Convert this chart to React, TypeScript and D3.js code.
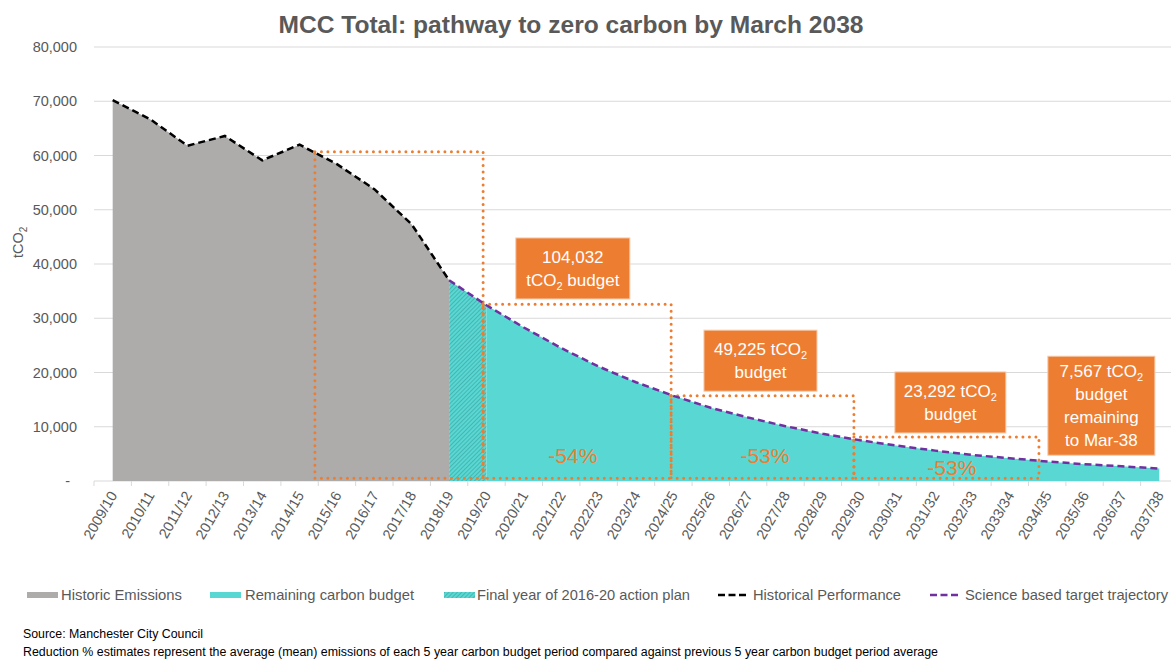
import * as d3 from 'd3';

const years = [
  '2009/10', '2010/11', '2011/12', '2012/13', '2013/14', '2014/15', '2015/16',
  '2016/17', '2017/18', '2018/19', '2019/20', '2020/21', '2021/22', '2022/23',
  '2023/24', '2024/25', '2025/26', '2026/27', '2027/28', '2028/29', '2029/30',
  '2030/31', '2031/32', '2032/33', '2033/34', '2034/35', '2035/36', '2036/37',
  '2037/38',
];

// 2009/10 .. 2018/19
const historic = [70200, 66700, 61800, 63600, 59100, 62000, 58400, 53800, 47300, 37000];
// 2018/19 .. 2037/38
const science = [
  37000, 32400, 28300, 24500, 21100, 18200, 15700, 13500, 11700, 10100,
  8700, 7500, 6500, 5600, 4800, 4200, 3600, 3100, 2700, 2300,
];
const scienceStart = 9;

const yTicks = [0, 10000, 20000, 30000, 40000, 50000, 60000, 70000, 80000];

// carbon budget periods (dotted boxes), x in category index
const periods = [
  { x0: 5.41, x1: 9.91, top: 60700 },
  { x0: 9.91, x1: 14.94, top: 32600 },
  { x0: 14.94, x1: 19.83, top: 15700 },
  { x0: 19.83, x1: 24.78, top: 8100 },
];

const budgets = [
  { x: 12.31, top: 44800, w: 114, h: 61, lines: [['104,032'], ['tCO', '2', ' budget']] },
  { x: 17.33, top: 27800, w: 113, h: 61, lines: [['49,225 tCO', '2'], ['budget']] },
  { x: 22.41, top: 20100, w: 111, h: 61, lines: [['23,292 tCO', '2'], ['budget']] },
  { x: 26.45, top: 23000, w: 107, h: 99, lines: [['7,567 tCO', '2'], ['budget'], ['remaining'], ['to Mar-38']] },
];

const reductions = [
  { x: 12.31, y: 3300, label: '-54%' },
  { x: 17.45, y: 3300, label: '-53%' },
  { x: 22.45, y: 1100, label: '-53%' },
];

const W = 1171;
const H = 659;
const FONT = '"Liberation Sans", Arial, sans-serif';
const GREY_TXT = '#595959';
const ORANGE = '#ED7D31';
const CYAN = '#59D8D3';
const GREY = '#AEABAB';
const PURPLE = '#7030A0';

export default function App() {
  const x = d3.scaleLinear().domain([-0.5, years.length - 0.5]).range([94, 1178]);
  const y = d3.scaleLinear().domain([0, 80000]).range([481, 47]);

  const histPts = historic.map((v, i) => [i, v] as [number, number]);
  const sciPts = science.map((v, i) => [i + scienceStart, v] as [number, number]);

  const area = d3.area<[number, number]>().x((d) => x(d[0])).y0(y(0)).y1((d) => y(d[1]));
  const line = d3.line<[number, number]>().x((d) => x(d[0])).y((d) => y(d[1]));

  const dotted = { stroke: ORANGE, strokeWidth: 3, strokeDasharray: '0 6.5', strokeLinecap: 'round' as const, fill: 'none' };

  const legend = [
    { kind: 'rect', fill: GREY, label: 'Historic Emissions', x: 27, tx: 61, tw: 121 },
    { kind: 'rect', fill: CYAN, label: 'Remaining carbon budget', x: 210, tx: 245, tw: 169 },
    { kind: 'rect', fill: 'url(#hatch)', label: 'Final year of 2016-20 action plan', x: 444, tx: 477, tw: 213 },
    { kind: 'line', fill: '#000', label: 'Historical Performance', x: 718, tx: 753, tw: 148 },
    { kind: 'line', fill: PURPLE, label: 'Science based target trajectory', x: 930, tx: 965, tw: 203 },
  ];

  return (
    <svg width={W} height={H} style={{ position: 'absolute', left: 0, top: 0, background: '#fff' }} fontFamily={FONT}>
      <defs>
        <pattern id="hatch" patternUnits="userSpaceOnUse" width="3" height="3" patternTransform="rotate(45)">
          <rect width="3" height="3" fill={CYAN} />
          <line x1="0" y1="0" x2="0" y2="3" stroke="#3a9d9a" strokeWidth="1.2" />
        </pattern>
      </defs>

      <text x={571} y={33} textAnchor="middle" fontSize={24} fontWeight="bold" fill={GREY_TXT} textLength={585} lengthAdjust="spacingAndGlyphs">
        MCC Total: pathway to zero carbon by March 2038
      </text>

      {yTicks.map((t) => (
        <g key={t}>
          <line x1={94} x2={W} y1={y(t)} y2={y(t)} stroke="#d9d9d9" strokeWidth={1} />
          <text x={t === 0 ? 70 : 77} y={y(t) + 5} textAnchor="end" fontSize={14.5} fill={GREY_TXT}>
            {t === 0 ? '-' : d3.format(',')(t)}
          </text>
        </g>
      ))}
      <text transform={`translate(23, ${y(44000)}) rotate(-90)`} textAnchor="middle" fontSize={14.5} fill={GREY_TXT}>
        tCO<tspan fontSize={10} dy={4}>2</tspan>
      </text>

      <path d={area(histPts) ?? ''} fill={GREY} />
      <path d={area(sciPts.slice(0, 2)) ?? ''} fill="url(#hatch)" />
      <path d={area(sciPts.slice(1)) ?? ''} fill={CYAN} />

      {years.map((yr, i) => (
        <g key={yr}>
          <line x1={x(i - 0.5)} x2={x(i - 0.5)} y1={y(0)} y2={y(0) + 5} stroke="#d9d9d9" />
          <text transform={`translate(${x(i) + 5}, ${y(0) + 14}) rotate(-60)`} textAnchor="end" fontSize={14.5} fill={GREY_TXT}>
            {yr}
          </text>
        </g>
      ))}

      {periods.map((p, i) => (
        <rect key={i} x={x(p.x0)} y={y(p.top)} width={x(p.x1) - x(p.x0)} height={y(500) - y(p.top)} {...dotted} />
      ))}

      <path d={line(histPts) ?? ''} fill="none" stroke="#000" strokeWidth={2.5} strokeDasharray="7 4" />
      <path d={line(sciPts) ?? ''} fill="none" stroke={PURPLE} strokeWidth={2.5} strokeDasharray="7 4" />

      {budgets.map((b, i) => (
        <g key={i} transform={`translate(${x(b.x)}, ${y(b.top)})`}>
          <rect x={-b.w / 2} y={0} width={b.w} height={b.h} fill={ORANGE} stroke="#f6c9a8" strokeWidth={1} />
          {b.lines.map((ln, j) => (
            <text key={j} x={0} y={b.h / 2 + 6 + (j - (b.lines.length - 1) / 2) * 23} textAnchor="middle" fontSize={17} fill="#fff">
              {ln[0]}
              {ln[1] && <tspan fontSize={11} dy={4}>{ln[1]}</tspan>}
              {ln[2] && <tspan dy={-4}>{ln[2]}</tspan>}
            </text>
          ))}
        </g>
      ))}

      {reductions.map((r, i) => (
        <text key={i} x={x(r.x)} y={y(r.y)} textAnchor="middle" fontSize={21} fill={ORANGE}>
          {r.label}
        </text>
      ))}

      {legend.map((l) => (
        <g key={l.label} transform="translate(0, 595)">
          {l.kind === 'rect' ? (
            <rect x={l.x} y={-3} width={31} height={6} fill={l.fill} />
          ) : (
            <line x1={l.x} x2={l.x + 31} y1={0} y2={0} stroke={l.fill} strokeWidth={2.5} strokeDasharray="7 3.5" />
          )}
          <text x={l.tx} y={5} fontSize={15} fill={GREY_TXT} textLength={l.tw} lengthAdjust="spacingAndGlyphs">
            {l.label}
          </text>
        </g>
      ))}

      <text x={23} y={638} fontSize={12.5} fill="#000" fontFamily='"Liberation Sans Narrow", "Liberation Sans", sans-serif' textLength={180} lengthAdjust="spacingAndGlyphs">
        Source: Manchester City Council
      </text>
      <text x={23} y={656} fontSize={12.5} fill="#000" fontFamily='"Liberation Sans Narrow", "Liberation Sans", sans-serif' textLength={915} lengthAdjust="spacingAndGlyphs">
        Reduction % estimates represent the average (mean) emissions of each 5 year carbon budget period compared against previous 5 year carbon budget period average
      </text>
    </svg>
  );
}
